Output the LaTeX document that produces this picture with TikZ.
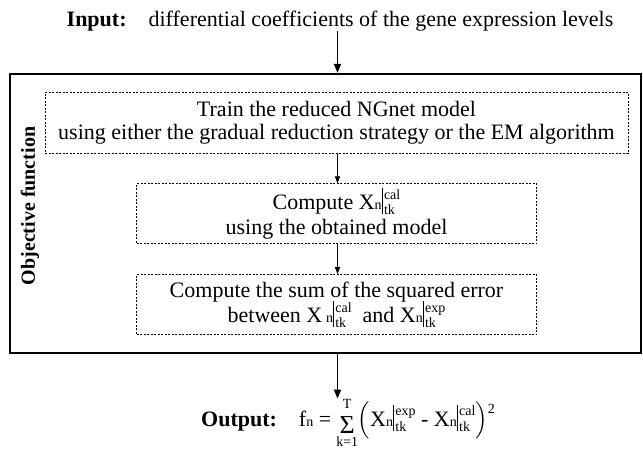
\documentclass[tikz,border=0pt]{standalone}
\usepackage{amsmath}
\usepackage{fontspec}
\setmainfont{Liberation Serif}
\usetikzlibrary{arrows.meta, positioning}

\newcommand{\scr}{\fontsize{14}{14}\selectfont}
\newcommand{\boxfont}{\fontsize{22}{25}\selectfont\lineskiplimit-20pt\relax}
\newcommand{\Xn}{X{\scr n}}
\newcommand{\attk}[1]{\rule[-5pt]{0.8pt}{26pt}\hspace{1.5pt}\raisebox{-5pt}{\scr\vbox{\offinterlineskip
  \hbox{\raisebox{0pt}[9pt][0pt]{#1}}\kern5.5pt\hbox{tk}}}}
\newcommand{\sumTk}{\setbox0\hbox{\fontsize{26}{26}\selectfont Σ}%
  \hspace{3pt}\raisebox{-7pt}{\copy0}%
  \llap{\hbox to\wd0{\hss\raisebox{18pt}{\scr T}\hss}}%
  \llap{\hbox to\wd0{\hss\raisebox{-20pt}{\scr k=1}\hss}}\hspace{3pt}}

\begin{document}
\begin{tikzpicture}[
  x=1pt, y=-1pt,
  node distance=30pt,
  txt/.style={font=\fontsize{22}{26}\selectfont},
  outerbox/.style={rectangle, draw, line width=2.2pt, minimum width=631pt, minimum height=279pt},
  stepbox/.style={rectangle, draw, dash pattern=on 2pt off 1.5pt, line width=0.8pt,
                  align=center, font=\boxfont},
  bigarr/.style={-{Triangle[length=9pt,width=7pt]}, line width=1.6pt},
  arr/.style={-{Triangle[length=7pt,width=5pt]}, line width=0.8pt}
]
  \useasboundingbox (0,0) rectangle (643,453);
  \coordinate (axis) at (337.5,0);
  % input and output lines
  \node[txt, inner sep=0pt, anchor=base] (input) at (340,26)
    {\textbf{Input:}\quad differential coefficients of the gene expression levels};
  \node[txt, inner sep=0pt, anchor=base] (output) at (348,426)
    {\textbf{Output:}\quad f{\scr n} = \sumTk$\Bigl($\Xn\attk{exp}\ - \Xn\attk{cal}$\Bigr)$\raisebox{13pt}{\scr 2}};
  % objective function
  \node[outerbox] (objfun) at (325.5,213.5) {};
  \node[rotate=90, font=\bfseries\fontsize{20}{24}\selectfont] (label) at (30,206) {Objective function};
  \node[stepbox, minimum width=583pt, minimum height=61pt] (train) at (336.5,122.5)
    {Train the reduced NGnet model\\[-2pt]using either the gradual reduction strategy or the EM algorithm};
  \node[stepbox, minimum width=400pt, minimum height=60pt, below=of train] (compute)
    {Compute \Xn\attk{cal}\\using the obtained model};
  \node[stepbox, minimum width=400pt, minimum height=60pt, below=of compute] (sumerr)
    {Compute the sum of the squared error\\between X\,{\scr n}\attk{cal}\ \ and \Xn\attk{exp}};
  \draw[bigarr] (input.south -| axis) -- (objfun.north -| axis);
  \draw[arr] (train.south -| axis) -- (compute.north -| axis);
  \draw[arr] (compute.south -| axis) -- (sumerr.north -| axis);
  \draw[bigarr] (objfun.south -| axis) -- (output.north -| axis);
\end{tikzpicture}
\end{document}
